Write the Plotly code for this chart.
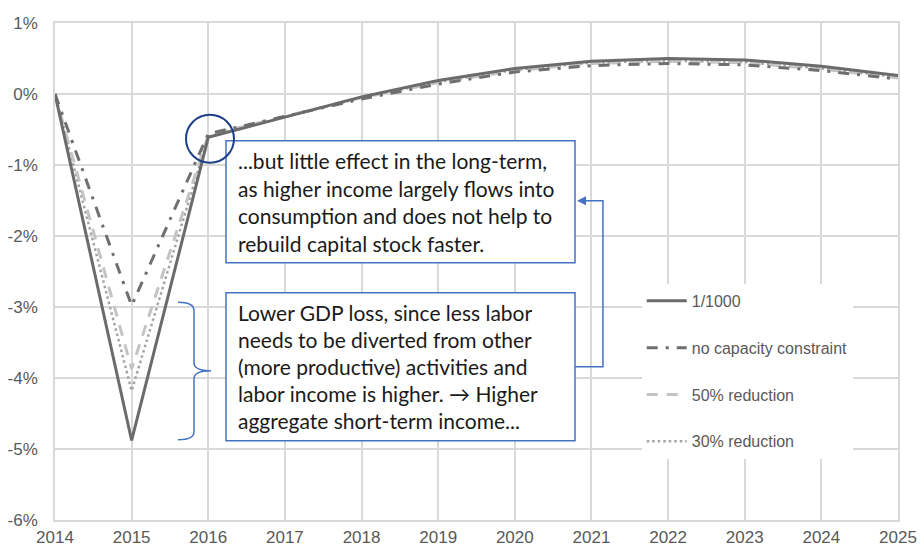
import plotly.graph_objects as go

years = list(range(2014, 2026))
s_1000 = [0, -4.88, -0.61, -0.32, -0.04, 0.19, 0.36, 0.46, 0.50, 0.48, 0.39, 0.26]
s_nocap = [0, -2.98, -0.56, -0.31, -0.07, 0.14, 0.31, 0.40, 0.43, 0.41, 0.33, 0.21]
s_50 = [0, -3.87, -0.58, -0.31, -0.05, 0.16, 0.33, 0.43, 0.46, 0.44, 0.35, 0.23]
s_30 = [0, -4.18, -0.60, -0.32, -0.05, 0.17, 0.34, 0.44, 0.47, 0.45, 0.36, 0.24]
names = ["1/1000", "no capacity constraint", "50% reduction", "30% reduction"]
y_ticks = [1, 0, -1, -2, -3, -4, -5, -6]
y_labels = ["1%", "0%", "-1%", "-2%", "-3%", "-4%", "-5%", "-6%"]

box1_lines = ["...but little effect in the long-term,",
              "as higher income largely flows into",
              "consumption and does not help to",
              "rebuild capital stock faster."]
box2_lines = ["Lower GDP loss, since less labor",
              "needs to be diverted from other",
              "(more productive) activities and",
              "labor income is higher. \u2192 Higher",
              "aggregate short-term income..."]

# pixel -> data helpers for decoration placement
def X(px):
    return 2014 + (px - 55) / 76.64

def Y(py):
    return -(py - 93.3) / 71.0

fig = go.Figure()
styles = [
    (s_30, names[3], "#a3a3a3", 2.5, "2.5px,3px", 4),
    (s_50, names[2], "#c4c4c4", 3, "11px,9px", 3),
    (s_nocap, names[1], "#6f6f6f", 3, "11px,8px,3px,8px", 2),
    (s_1000, names[0], "#6b6b6b", 3, "solid", 1),
]
for vals, nm, col, w, dash, rank in styles:
    fig.add_trace(go.Scatter(x=years, y=vals, name=nm, mode="lines",
                             line=dict(color=col, width=w, dash=dash),
                             legendgroup=nm, legendrank=rank))

BLUE = "#4472C4"
TXT = dict(family="Lato", size=21, color="#1a1a1a")
# boxes
fig.add_shape(type="rect", x0=X(226), x1=X(575), y0=Y(140), y1=Y(262),
              line=dict(color=BLUE, width=1.5), fillcolor="white", layer="above")
fig.add_shape(type="rect", x0=X(226), x1=X(575), y0=Y(292), y1=Y(440),
              line=dict(color=BLUE, width=1.5), fillcolor="white", layer="above")
for i, t in enumerate(box1_lines):
    fig.add_annotation(x=X(236), y=Y(160 + i * 27.5), text=t, showarrow=False,
                       xanchor="left", yanchor="middle", font=TXT)
for i, t in enumerate(box2_lines):
    fig.add_annotation(x=X(236), y=Y(312 + i * 27), text=t, showarrow=False,
                       xanchor="left", yanchor="middle", font=TXT)
# circle
fig.add_shape(type="circle", x0=X(186), x1=X(234), y0=Y(114), y1=Y(162),
              line=dict(color="#1F3F86", width=2), layer="above")
# brace
def P(px, py):
    return f"{X(px)},{Y(py)}"
brace = ("M " + P(178, 301.5) + " Q " + P(194, 301.5) + " " + P(194, 310) +
         " L " + P(194, 362) + " Q " + P(194, 370) + " " + P(211, 370) +
         " Q " + P(194, 370) + " " + P(194, 378) +
         " L " + P(194, 431) + " Q " + P(194, 439) + " " + P(178, 439))
fig.add_shape(type="path", path=brace, line=dict(color=BLUE, width=1.5), layer="above")
# connector
conn = "M " + P(575, 366) + " L " + P(603, 366) + " L " + P(603, 200) + " L " + P(588, 200)
fig.add_shape(type="path", path=conn, line=dict(color=BLUE, width=1.5), layer="above")
fig.add_annotation(x=X(577), y=Y(200), ax=X(590), ay=Y(200), axref="x", ayref="y",
                   xref="x", yref="y", text="", showarrow=True, arrowhead=2,
                   arrowsize=1.2, arrowwidth=1.5, arrowcolor=BLUE)

grid = "#d9d9d9"
fig.update_layout(
    width=920, height=548,
    margin=dict(l=55, r=22, t=23, b=28, autoexpand=False),
    paper_bgcolor="white", plot_bgcolor="white",
    font=dict(family="Liberation Sans, Arial", color="#595959"),
    showlegend=True,
    legend=dict(x=0.696, y=0.475, xanchor="left", yanchor="top",
                bgcolor="white", font=dict(size=16, color="#595959"),
                tracegroupgap=23, itemwidth=40),
    xaxis=dict(range=[2014, 2025], tickvals=years, ticktext=[str(y) for y in years],
               showgrid=True, gridcolor=grid, gridwidth=1.5, showline=True,
               linecolor=grid, linewidth=1.5, mirror=True, zeroline=False,
               tickfont=dict(size=17), ticks="", ticklabelstandoff=1, automargin=False),
    yaxis=dict(range=[-6, 1], tickvals=y_ticks, ticktext=y_labels,
               showgrid=True, gridcolor=grid, gridwidth=1.5, showline=True,
               linecolor=grid, linewidth=1.5, mirror=True, zeroline=False,
               tickfont=dict(size=17), ticks="", ticklabelstandoff=12, automargin=False),
)
fig.write_html("out.html", config={"displayModeBar": False},
               post_script="document.body.style.margin='0';document.body.style.overflow='hidden';")
